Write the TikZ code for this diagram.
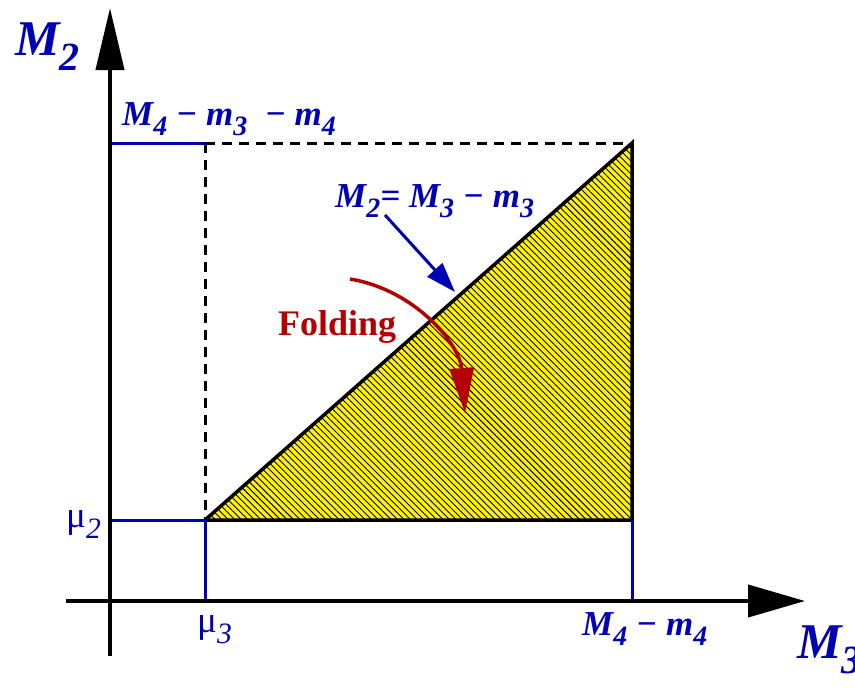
\documentclass[tikz,border=0pt]{standalone}
\usepackage{fontspec}
\setmainfont{Liberation Serif}
\usepackage{graphicx}
\usetikzlibrary{arrows.meta,patterns.meta}
\definecolor{lblue}{RGB}{0,0,180}
\definecolor{lred}{RGB}{180,0,0}
\newcommand\sbs[1]{\raisebox{-0.3em}{\scalebox{0.8}{#1}}}
\tikzset{
  lbl/.style={text=lblue, inner sep=0pt, anchor=base west, font=\fontsize{35}{40}\selectfont\bfseries\itshape},
  biglbl/.style={lbl, font=\fontsize{50}{56}\selectfont\bfseries\itshape},
  mulbl/.style={text=lblue, inner sep=0pt, anchor=base west, font=\fontsize{37}{40}\selectfont},
  axis/.style={line width=4pt, black},
  bline/.style={line width=3pt, lblue},
  dline/.style={line width=3pt, black, dash pattern=on 10pt off 7pt},
}
\begin{document}
\begin{tikzpicture}[x=1pt,y=-1pt]
\useasboundingbox (0,0) rectangle (855,688);
% coordinates
\coordinate (A) at (205,520);
\coordinate (B) at (632,143);
\coordinate (C) at (632,520);
\coordinate (Y0) at (110,656);
\coordinate (Y1) at (110,8);
\coordinate (X0) at (66,601);
\coordinate (X1) at (805,601);
\coordinate (T1) at (110,143);
\coordinate (T2) at (205,143);
\coordinate (L1) at (110,520);
\coordinate (A0) at (205,601);
\coordinate (C0) at (632,601);
% hatched triangle
\fill[yellow] (A) -- (B) -- (C) -- cycle;
\fill[pattern={Lines[angle=-45,distance=4.6pt,line width=0.9pt]}, pattern color=black] (A) -- (B) -- (C) -- cycle;
\draw[line width=3.5pt, line join=miter] (A) -- (B) -- (C) -- cycle;
% dashed
\draw[dline] (T2) -- (B);
\draw[dline] (T2) -- (A);
% blue guides
\draw[bline] (T1) -- (T2);
\draw[bline] (L1) -- (A);
\draw[bline] (A) -- (A0);
\draw[bline] (C) -- (C0);
% axes
\draw[axis, -{Triangle[length=62pt,width=28pt]}] (Y0) -- (Y1);
\draw[axis, -{Triangle[length=57pt,width=32pt]}] (X0) -- (X1);
% labels
\node[biglbl] (lm2) at (15,55) {M\sbs{2}};
\node[biglbl] (lm3) at (797,658) {M\sbs{3}};
\node[lbl] (ltop) at (122,125) {M\sbs{4} − m\sbs{3} \ − m\sbs{4}};
\node[lbl] (lbot) at (582,635) {M\sbs{4} − m\sbs{4}};
\node[mulbl] (lmu2) at (66,527) {μ\sbs{\textit{2}}};
\node[mulbl] (lmu3) at (197,632) {μ\sbs{\textit{3}}};
\node[lbl] (ldiag) at (335,207) {M\sbs{2}= M\sbs{3} − m\sbs{3}};
\node[text=lred, inner sep=0pt, anchor=base west, font=\fontsize{36}{40}\selectfont\bfseries] (lfold) at (278,335) {Folding};
% arrows
\coordinate (BA0) at (385,215);
\coordinate (BA1) at (455,292);
\draw[line width=3pt, lblue, -{Triangle[length=30pt,width=20pt]}] (BA0) -- (BA1);
\coordinate (RA0) at (350,279);
\coordinate (RA1) at (465,413);
\draw[line width=3.5pt, lred, -{Triangle[length=45pt,width=24pt]}] (RA0) .. controls (416,290) and (460,345) .. (RA1);
\end{tikzpicture}
\end{document}
